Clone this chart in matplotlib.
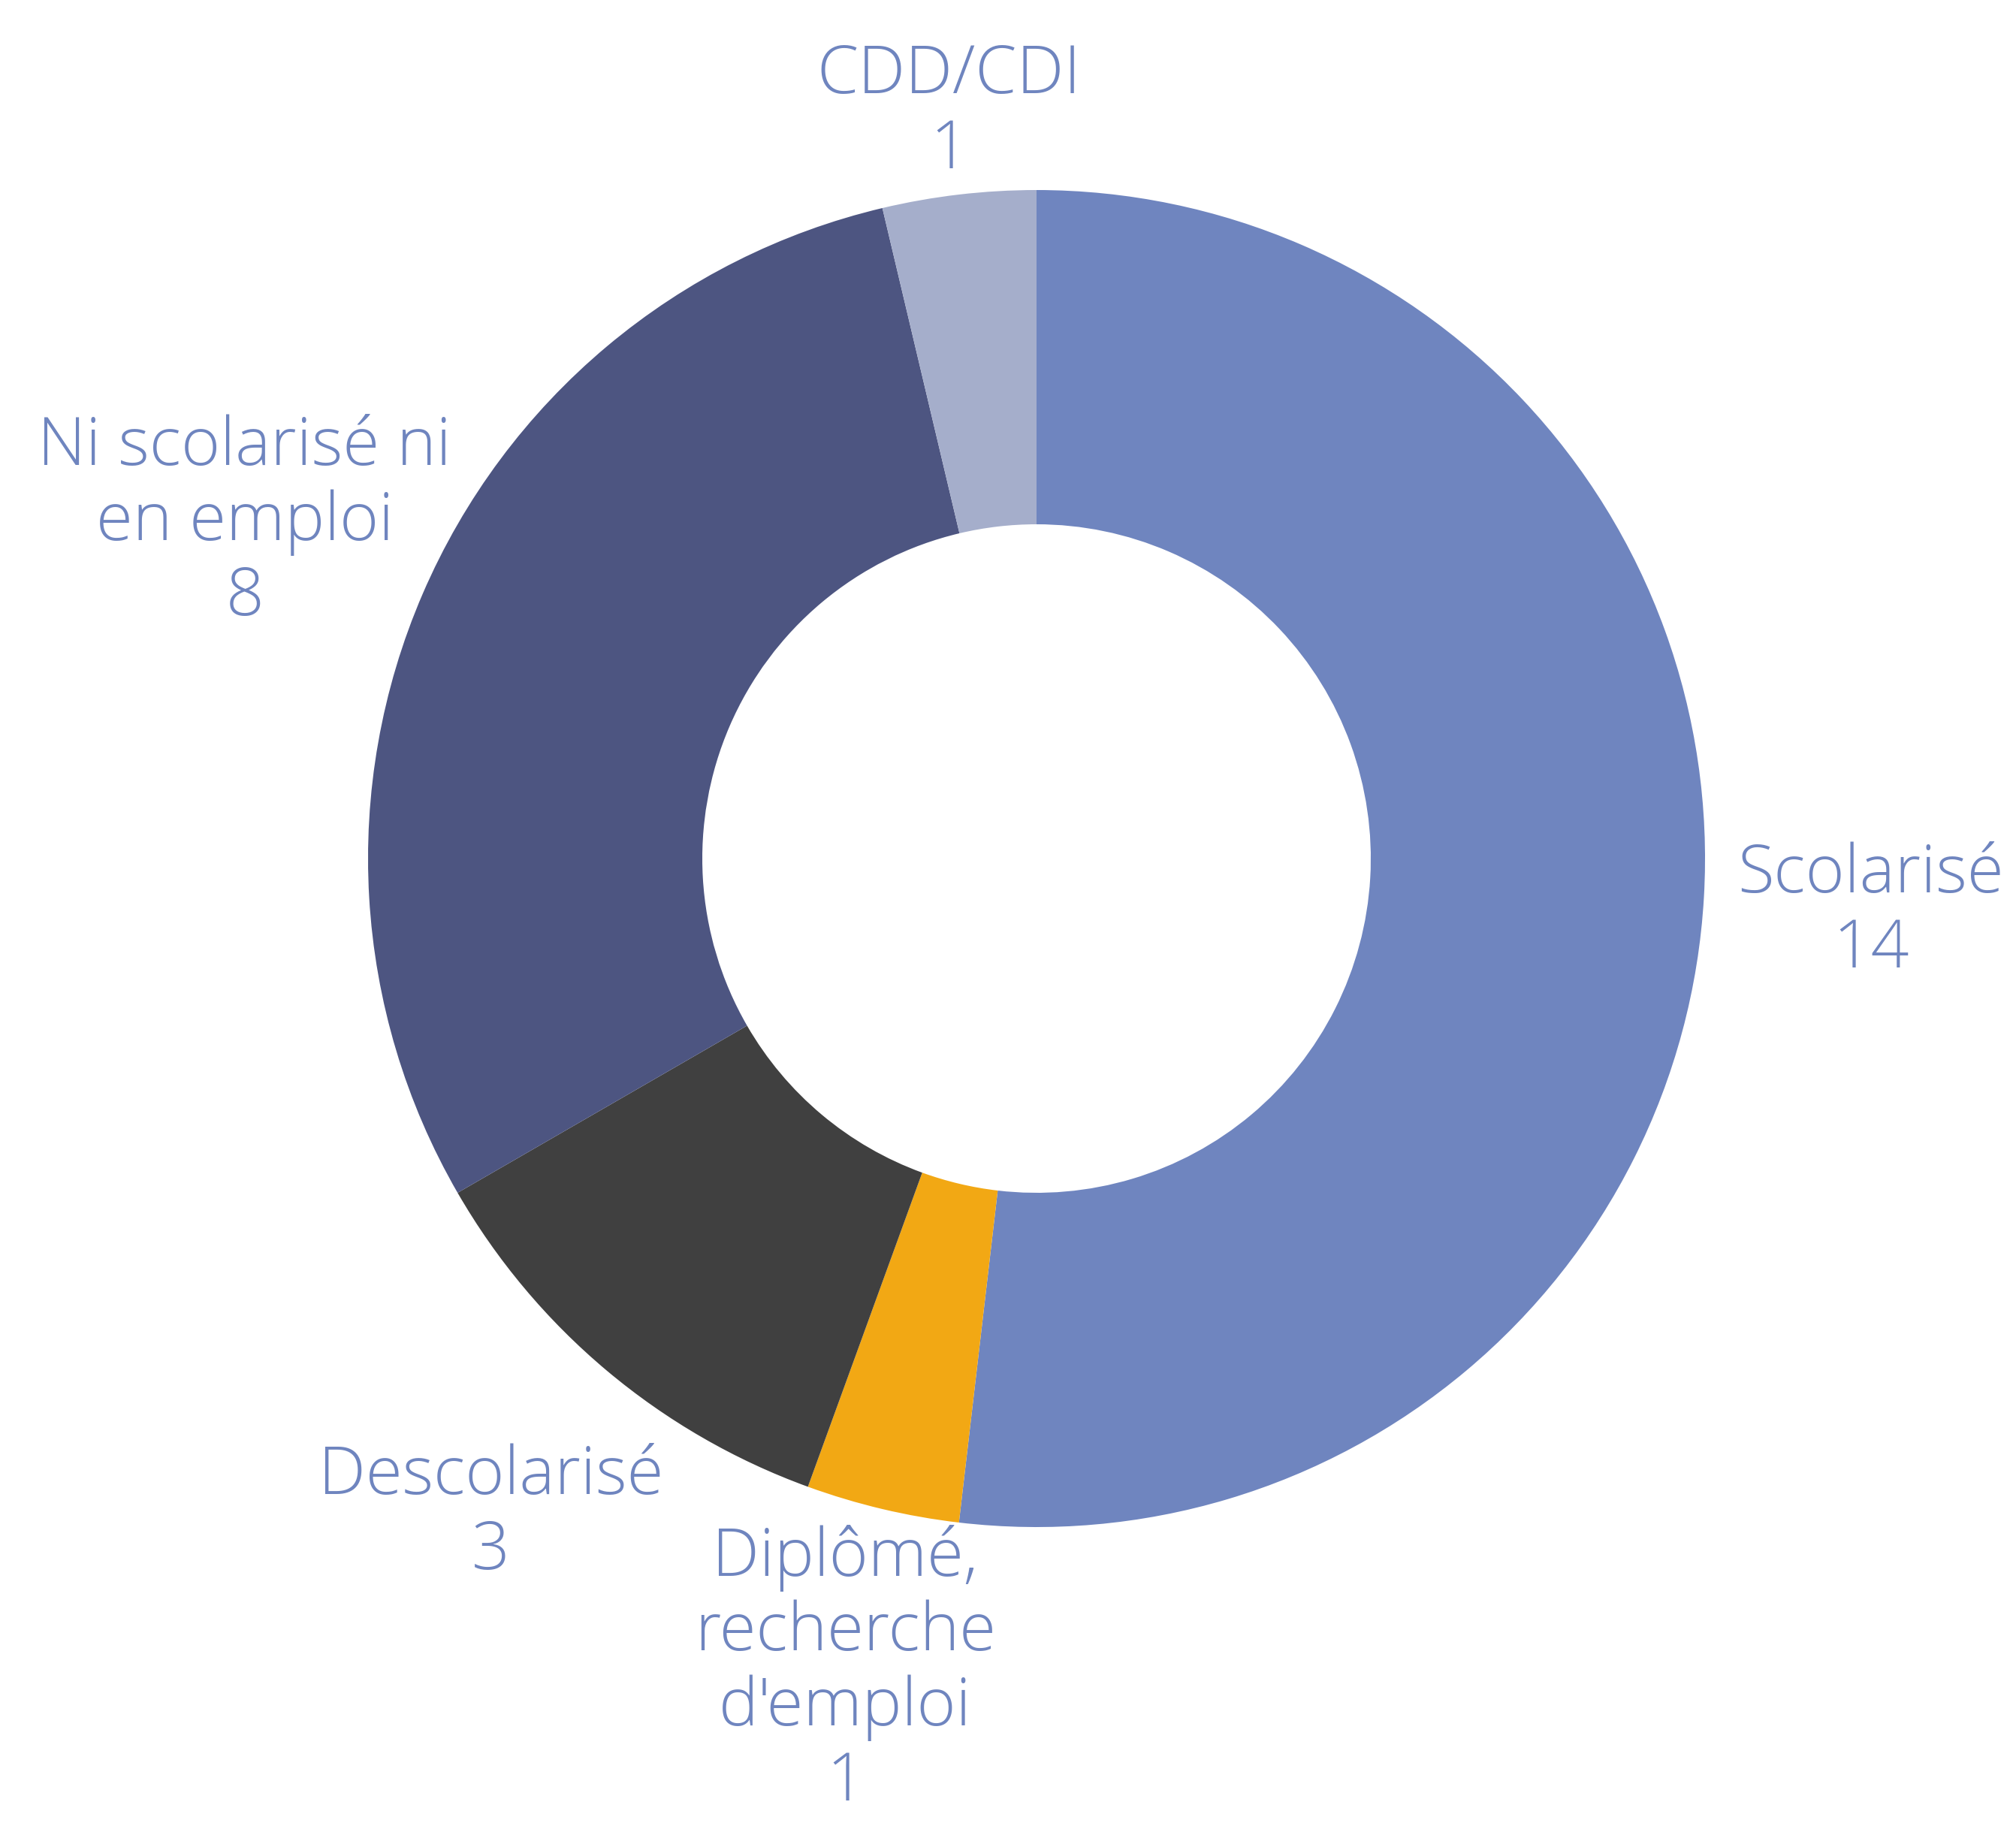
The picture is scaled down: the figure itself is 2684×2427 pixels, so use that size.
import numpy as np
import matplotlib.pyplot as plt

# Donut data
categories = ["Scolarisé", "Diplômé,\nrecherche\nd'emploi", "Descolarisé",
              "Ni scolarisé ni\nen emploi", "CDD/CDI"]
values = [14, 1, 3, 8, 1]
colors = ["#6F85BF", "#F2A814", "#404040", "#4D5581", "#A5AECB"]

# label distance from centre (in outer radii), one per slice
label_dist = [1.25, 1.24, 1.27, 1.29, 1.13]

W, H = 2684, 2427
R_PX = 890
CX, CY = 1380, 1143

fig = plt.figure(figsize=(W / 100, H / 100), dpi=100)
ax = fig.add_axes([0, 0, 1, 1])

wedges, _ = ax.pie(values, colors=colors, startangle=90, counterclock=False,
                   radius=1, wedgeprops=dict(width=0.5, linewidth=0))

ax.set_xlim(-CX / R_PX, (W - CX) / R_PX)
ax.set_ylim(-(H - CY) / R_PX, CY / R_PX)
ax.set_aspect("equal")
ax.axis("off")

for w, cat, val, d in zip(wedges, categories, values, label_dist):
    ang = np.deg2rad((w.theta1 + w.theta2) / 2)
    x, y = d * np.cos(ang), d * np.sin(ang)
    ax.text(x, y - 0.008, f"{cat}\n{val}", ha="center", va="center",
            fontsize=64, color="#6F85BF", family="Open Sans", fontweight=300,
            linespacing=1.17, multialignment="center")

fig.savefig("out.png", dpi=100)
